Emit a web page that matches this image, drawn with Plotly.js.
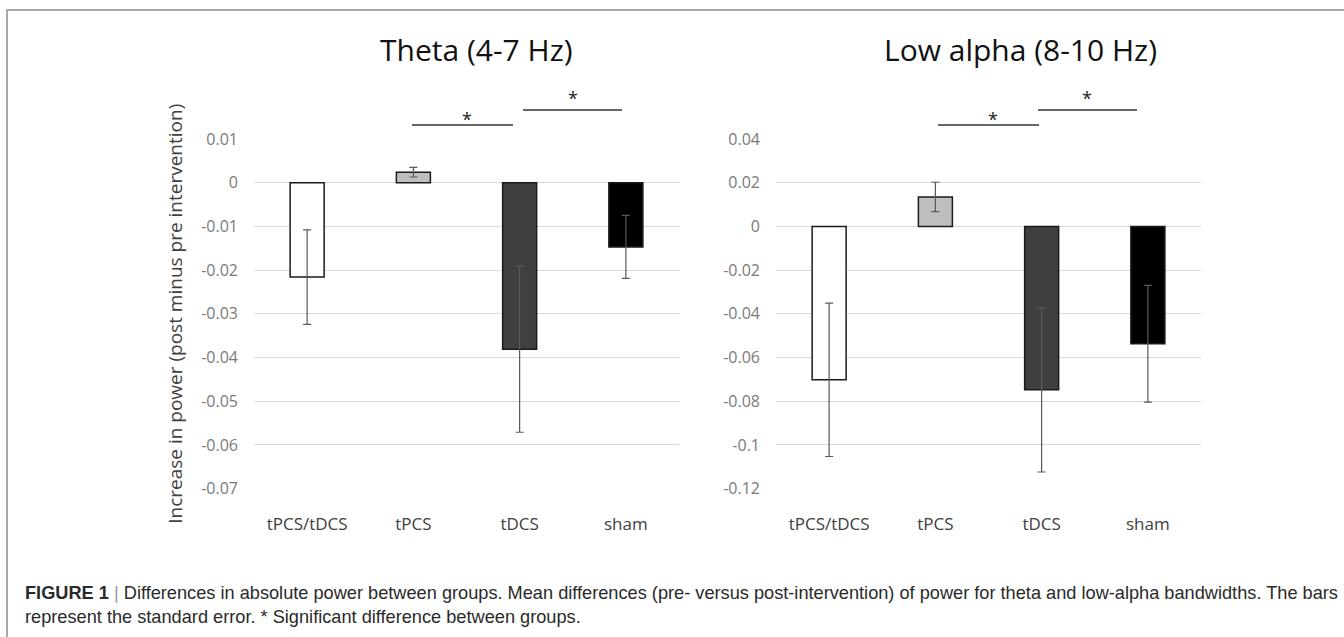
<!DOCTYPE html>
<html>
<head>
<meta charset="utf-8">
<script src="https://cdn.plot.ly/plotly-3.0.1.min.js"></script>
<style>html,body{margin:0;padding:0;background:#fff;}#chart{width:1344px;height:637px;}</style>
</head>
<body>
<div id="chart"></div>
<script>
const categories = ['tPCS/tDCS', 'tPCS', 'tDCS', 'sham'];
const thetaMeans = [-0.0216, 0.0024, -0.0381, -0.0147];
const thetaSE = [0.0108, 0.0011, 0.0190, 0.0072];
const alphaMeans = [-0.0702, 0.0135, -0.0748, -0.0537];
const alphaSE = [0.0351, 0.0067, 0.0376, 0.0267];
const barColors = ['#ffffff', '#bfbfbf', '#404040', '#000000'];
const thetaTickVals = [0.01, 0, -0.01, -0.02, -0.03, -0.04, -0.05, -0.06, -0.07];
const thetaTickText = ['0.01', '0', '-0.01', '-0.02', '-0.03', '-0.04', '-0.05', '-0.06', '-0.07'];
const alphaTickVals = [0.04, 0.02, 0, -0.02, -0.04, -0.06, -0.08, -0.1, -0.12];
const alphaTickText = ['0.04', '0.02', '0', '-0.02', '-0.04', '-0.06', '-0.08', '-0.1', '-0.12'];
const panelTitles = ['Theta (4-7 Hz)', 'Low alpha (8-10 Hz)'];
const yTitle = 'Increase in power (post minus pre intervention)';
const captionText = '<b>FIGURE 1</b> <span style="color:#999">|</span> Differences in absolute power between groups. Mean differences (pre- versus post-intervention) of power for theta and low-alpha bandwidths. The bars<br>represent the standard error. * Significant difference between groups.';

const W = 1344, H = 637;
const px = v => v / W;
const py = v => 1 - v / H;

function barTrace(means, se, xa, ya) {
  return {
    type: 'bar', x: categories, y: means, xaxis: xa, yaxis: ya,
    marker: {color: barColors, line: {color: '#1a1a1a', width: 1.5}},
    error_y: {type: 'data', array: se, visible: true, color: '#595959', thickness: 1.2, width: 4},
    hoverinfo: 'skip'
  };
}

const data = [
  barTrace(thetaMeans, thetaSE, 'x', 'y'),
  barTrace(alphaMeans, alphaSE, 'x2', 'y2')
];

const font = 'Open Sans, sans-serif';
const yDomain = [py(488.6), py(139)];
function xAxis(domain, anchor) {
  return {domain: domain, anchor: anchor, showline: false, ticks: '', showgrid: false, zeroline: false,
    tickfont: {family: font, size: 17, color: '#404040'}, ticklabelstandoff: 23, fixedrange: true};
}
function yAxis(anchor, range, vals, text, title) {
  return {domain: yDomain, anchor: anchor, range: range, tickmode: 'array', tickvals: vals, ticktext: text,
    showgrid: true, gridcolor: '#d9d9d9', gridwidth: 1, zeroline: false, showline: false, ticks: '',
    tickfont: {family: font, size: 16, color: '#7a7a7a'}, ticklabelstandoff: 15, fixedrange: true,
    title: title ? {text: title, font: {family: font, size: 19, color: '#404040'}, standoff: 13} : undefined};
}

const sigLine = {type: 'line', xref: 'paper', yref: 'paper', line: {color: '#333333', width: 1.5}};
const shapes = [
  Object.assign({}, sigLine, {x0: px(412), x1: px(513), y0: py(125), y1: py(125)}),
  Object.assign({}, sigLine, {x0: px(523), x1: px(622), y0: py(110), y1: py(110)}),
  Object.assign({}, sigLine, {x0: px(938), x1: px(1039), y0: py(125), y1: py(125)}),
  Object.assign({}, sigLine, {x0: px(1038), x1: px(1137), y0: py(110), y1: py(110)}),
  {type: 'rect', xref: 'paper', yref: 'paper', x0: px(7), x1: px(1360), y0: py(10), y1: py(700),
   line: {color: '#a8a8a8', width: 2}, fillcolor: 'rgba(0,0,0,0)', layer: 'below'}
];

function star(x, y) {
  return {text: '*', xref: 'paper', yref: 'paper', x: px(x), y: py(y), xanchor: 'center', yanchor: 'middle',
    showarrow: false, font: {family: font, size: 18, color: '#222'}};
}

const annotations = [
  {text: panelTitles[0], xref: 'paper', yref: 'paper', x: px(476), y: py(50), xanchor: 'center', yanchor: 'middle',
   showarrow: false, font: {family: font, size: 30, color: '#111'}},
  {text: panelTitles[1], xref: 'paper', yref: 'paper', x: px(1020), y: py(50), xanchor: 'center', yanchor: 'middle',
   showarrow: false, font: {family: font, size: 30, color: '#111'}},
  star(467, 119), star(573, 98), star(993, 119), star(1087, 98),
  {text: captionText, xref: 'paper', yref: 'paper', x: px(23), y: py(605), xanchor: 'left', yanchor: 'middle',
   align: 'left', showarrow: false, font: {family: 'Liberation Sans, Arial, sans-serif', size: 18.2, color: '#2a2a2a'}}
];

const layout = {
  width: W, height: H, margin: {l: 0, r: 0, t: 0, b: 0},
  paper_bgcolor: '#ffffff', plot_bgcolor: '#ffffff', showlegend: false, bargap: 0.68,
  xaxis: xAxis([px(254), px(679)], 'y'),
  yaxis: yAxis('x', [-0.07, 0.01], thetaTickVals, thetaTickText, yTitle),
  xaxis2: xAxis([px(776), px(1201)], 'y2'),
  yaxis2: yAxis('x2', [-0.12, 0.04], alphaTickVals, alphaTickText, null),
  shapes: shapes, annotations: annotations
};

Plotly.newPlot('chart', data, layout, {displayModeBar: false, staticPlot: true});
</script>
</body>
</html>
